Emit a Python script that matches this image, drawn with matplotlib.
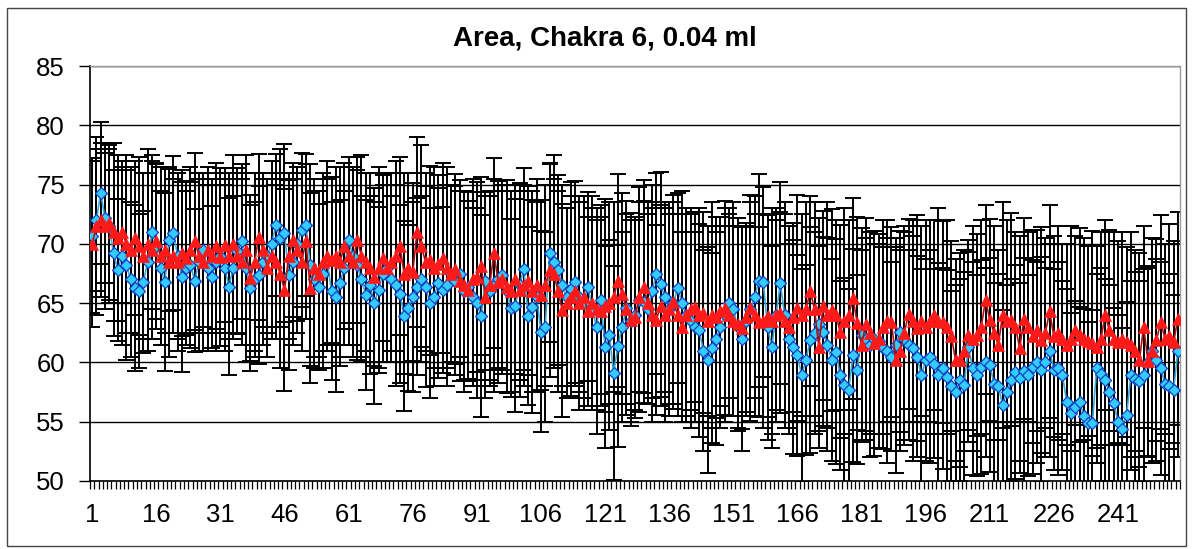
import matplotlib
matplotlib.use("Agg")
import matplotlib.pyplot as plt
from matplotlib.patches import Rectangle
import numpy as np

plt.rcParams['font.family'] = ['Liberation Sans', 'DejaVu Sans']

title = "Area, Chakra 6, 0.04 ml"

# Measurement index 1..255
samples = list(range(1, 256))

# Mean area, series 1 (blue diamonds)
blue_mean = [
    70.7, 72.0, 74.3, 72.2, 71.5, 69.2, 67.8, 69.0, 68.2, 67.0, 66.3, 66.0, 66.8, 68.5, 71.0,
    69.8, 68.0, 66.8, 70.3, 70.9, 69.0, 67.2, 68.0, 68.2, 66.9, 68.5, 69.5, 68.0, 67.2, 68.5,
    69.0, 68.0, 66.4, 68.0, 69.4, 70.2, 68.0, 66.3, 67.0, 67.4, 68.5, 69.0, 70.0, 71.6, 70.5,
    70.9, 67.4, 68.5, 70.0, 71.2, 71.6, 68.2, 67.0, 66.4, 67.5, 68.5, 66.0, 65.5, 66.7, 68.0,
    70.3, 69.0, 68.2, 67.0, 65.7, 66.5, 65.0, 66.1, 67.5, 68.0, 67.0, 66.5, 65.8, 63.9, 64.6,
    65.5, 66.4, 67.0, 66.4, 65.0, 65.5, 66.7, 66.1, 66.5, 67.5, 66.9, 67.5, 66.0, 66.4, 65.5,
    65.0, 63.9, 66.9, 66.0, 66.5, 67.0, 67.4, 66.0, 64.6, 64.8, 66.5, 67.9, 63.9, 64.7, 65.5,
    62.6, 63.0, 69.2, 68.5, 67.8, 66.5, 65.5, 66.2, 66.8, 65.5, 65.0, 66.4, 64.5, 63.0, 65.3,
    61.3, 62.3, 59.1, 61.4, 63.0, 64.6, 63.5, 64.0, 65.3, 65.1, 64.5, 66.0, 67.5, 66.6, 65.5,
    64.5, 65.0, 66.3, 65.0, 64.0, 63.5, 63.0, 62.7, 61.0, 60.2, 61.2, 62.0, 63.0, 64.0, 65.0,
    64.5, 63.0, 62.0, 63.5, 64.5, 65.5, 66.9, 66.8, 63.0, 61.3, 64.0, 66.7, 64.0, 62.0, 61.3,
    60.6, 58.9, 60.2, 61.9, 62.5, 63.2, 62.6, 61.5, 60.2, 60.9, 58.9, 58.1, 57.7, 60.6, 59.4,
    62.3, 62.0, 61.5, 62.0, 61.8, 61.2, 61.0, 60.5, 61.5, 62.6, 62.0, 61.5, 61.2, 60.5, 58.9,
    60.2, 60.5, 59.9, 58.9, 59.5, 58.8, 58.0, 57.5, 58.5, 58.1, 61.3, 59.5, 58.9, 59.6, 60.0,
    59.8, 58.2, 58.0, 56.4, 57.5, 58.5, 59.2, 58.7, 59.3, 58.9, 59.6, 60.0, 59.4, 60.0, 61.0,
    59.4, 59.5, 58.9, 56.7, 55.7, 56.2, 56.7, 55.5, 54.9, 54.9, 59.5, 59.0, 58.5, 57.5, 56.6,
    55.0, 54.4, 55.6, 58.9, 58.6, 58.4, 58.9, 60.0, 61.0, 60.2, 59.5, 58.2, 58.0, 57.7, 61.0,
]

# Mean area, series 2 (red triangles)
red_mean = [
    70.0, 71.5, 72.0, 71.5, 71.8, 71.0, 70.5, 71.0, 70.0, 69.5, 70.5, 69.8, 69.0, 70.0, 69.5,
    70.2, 69.0, 69.5, 68.5, 69.0, 68.5, 69.2, 68.8, 69.5, 70.2, 69.0, 68.5, 69.5, 69.0, 69.8,
    68.9, 69.9, 69.0, 70.0, 69.0, 68.5, 69.5, 67.1, 68.5, 70.6, 69.5, 68.0, 69.0, 68.5, 67.5,
    66.1, 69.0, 70.3, 69.5, 68.5, 70.2, 66.3, 68.0, 67.5, 68.5, 69.0, 68.6, 69.0, 68.5, 69.8,
    69.0, 68.5, 70.3, 69.0, 68.5, 68.0, 67.2, 68.0, 68.8, 68.0, 68.5, 69.0, 69.8, 67.5, 68.0,
    67.6, 71.0, 69.8, 68.5, 68.6, 68.0, 68.3, 68.8, 68.0, 67.5, 67.9, 66.9, 66.5, 66.1, 67.0,
    67.2, 68.1, 65.5, 66.5, 69.2, 66.8, 67.0, 66.4, 66.0, 67.0, 66.1, 66.5, 66.9, 66.0, 66.5,
    65.7, 66.5, 67.8, 67.5, 66.0, 64.4, 65.0, 65.5, 66.0, 65.0, 65.5, 64.3, 65.0, 64.5, 64.3,
    64.8, 65.0, 65.5, 66.9, 65.8, 64.5, 63.6, 63.8, 65.5, 66.4, 65.0, 64.0, 63.6, 64.8, 64.0,
    64.5, 65.1, 64.0, 63.0, 64.0, 64.5, 64.7, 64.0, 64.2, 63.5, 64.0, 63.8, 64.3, 64.6, 64.0,
    63.5, 63.2, 62.9, 63.8, 64.6, 64.0, 63.4, 63.5, 63.9, 63.5, 64.0, 64.2, 63.5, 63.0, 63.8,
    64.6, 64.0, 64.5, 66.0, 64.5, 61.3, 64.8, 64.0, 64.4, 64.0, 62.6, 63.5, 64.0, 65.4, 63.3,
    61.5, 63.2, 62.5, 61.6, 62.0, 63.0, 63.5, 63.4, 60.2, 61.0, 62.5, 64.1, 63.5, 62.9, 63.5,
    63.0, 63.5, 64.0, 63.5, 63.4, 63.0, 62.2, 60.2, 60.2, 61.0, 62.3, 62.0, 62.3, 63.0, 65.3,
    63.6, 62.5, 61.5, 64.0, 63.5, 63.6, 63.0, 61.2, 63.7, 63.0, 62.2, 62.7, 61.9, 62.5, 64.3,
    62.2, 62.5, 62.0, 61.5, 62.0, 62.7, 62.3, 62.0, 61.8, 61.6, 61.3, 62.0, 64.0, 62.7, 62.0,
    61.7, 62.0, 61.7, 61.5, 61.0, 60.2, 63.0, 60.1, 61.0, 61.9, 63.4, 62.0, 62.2, 61.7, 63.7,
]

# Standard deviations shown as error bars
blue_sd = [
    6.5, 6.0, 6.0, 5.5, 6.5, 7.0, 6.0, 7.5, 8.0, 6.5, 7.0, 6.5, 6.0, 7.5, 6.5,
    7.0, 6.5, 7.5, 6.0, 6.5, 7.0, 8.0, 6.5, 7.0, 6.0, 7.5, 6.5, 7.0, 6.0, 7.5,
    6.5, 7.0, 7.5, 6.0, 7.0, 6.5, 8.0, 7.0, 6.5, 7.5, 7.0, 6.5, 7.0, 6.0, 7.5,
    7.5, 8.0, 7.0, 6.5, 6.5, 6.0, 8.5, 7.5, 7.0, 8.0, 7.0, 7.5, 8.0, 7.0, 6.5,
    7.0, 7.5, 8.0, 7.0, 8.0, 7.5, 8.5, 7.0, 7.5, 8.0, 7.0, 8.5, 7.5, 8.0, 7.0,
    8.0, 7.5, 7.0, 8.5, 8.0, 7.5, 8.0, 7.0, 8.5, 7.5, 8.0, 7.0, 8.5, 8.0, 7.5,
    8.0, 8.5, 7.5, 8.0, 9.0, 7.5, 8.0, 8.5, 7.5, 9.0, 8.0, 8.5, 7.5, 9.0, 8.0,
    8.5, 8.0, 7.5, 9.0, 8.0, 8.5, 7.5, 9.0, 8.5, 8.0, 9.0, 8.0, 8.5, 9.0, 8.0,
    8.5, 8.0, 9.0, 8.5, 8.0, 9.0, 8.5, 8.0, 9.5, 8.5, 8.0, 9.0, 8.5, 9.5, 8.0,
    9.0, 8.5, 8.0, 9.5, 8.5, 9.0, 8.0, 9.0, 8.5, 9.5, 8.0, 9.0, 8.5, 9.0, 8.0,
    9.0, 8.5, 9.5, 8.0, 9.0, 8.5, 9.0, 8.0, 9.5, 8.5, 9.0, 8.5, 9.5, 8.0, 9.0,
    8.5, 9.0, 8.0, 9.5, 8.5, 9.0, 8.0, 9.0, 8.5, 9.5, 8.0, 9.0, 8.5, 9.0, 8.0,
    9.0, 8.5, 9.5, 8.0, 9.0, 8.5, 9.5, 8.0, 9.0, 8.5, 9.0, 8.0, 9.5, 8.5, 9.0,
    8.5, 9.0, 8.0, 9.5, 8.5, 9.0, 8.0, 9.0, 8.5, 9.5, 8.0, 9.0, 8.5, 9.0, 8.0,
    9.0, 8.5, 9.5, 8.0, 9.0, 8.5, 9.0, 8.0, 9.5, 8.5, 9.0, 8.5, 9.5, 8.0, 9.0,
    8.5, 9.0, 8.0, 9.5, 8.5, 9.0, 8.0, 9.0, 8.5, 9.5, 8.0, 9.0, 8.5, 9.0, 8.0,
    9.0, 8.5, 9.5, 8.0, 9.0, 8.5, 9.0, 8.0, 9.5, 8.5, 9.0, 8.5, 9.5, 8.0, 9.0,
]

red_sd = [
    7.0, 7.5, 6.5, 7.0, 6.5, 7.5, 7.0, 6.0, 7.5, 7.0, 6.5, 7.5, 7.0, 8.0, 7.5,
    6.5, 7.5, 7.0, 8.0, 6.5, 7.5, 7.0, 6.5, 7.0, 7.5, 6.5, 7.5, 7.0, 6.5, 7.0,
    7.5, 6.5, 7.0, 7.5, 6.5, 7.0, 8.0, 7.0, 7.5, 7.0, 6.5, 7.5, 7.0, 6.5, 8.0,
    8.5, 7.0, 6.5, 7.0, 7.5, 6.5, 8.0, 7.5, 7.0, 7.5, 8.0, 7.0, 7.5, 8.0, 7.0,
    7.5, 8.0, 7.0, 8.5, 7.5, 8.0, 7.5, 8.5, 7.0, 8.0, 7.5, 8.0, 7.5, 8.5, 8.0,
    7.5, 8.0, 8.5, 7.5, 8.0, 8.5, 7.5, 8.0, 8.5, 7.5, 8.0, 8.5, 8.0, 7.5, 8.5,
    8.0, 7.5, 8.5, 8.0, 8.0, 8.5, 8.0, 9.0, 8.5, 8.0, 9.0, 8.5, 8.0, 8.5, 9.0,
    8.0, 8.5, 9.0, 8.0, 8.5, 9.0, 8.0, 8.5, 8.0, 9.0, 8.5, 8.0, 9.0, 8.5, 8.0,
    9.0, 8.5, 8.0, 9.0, 8.5, 8.0, 9.0, 8.5, 8.0, 9.0, 8.5, 9.0, 8.0, 8.5, 9.0,
    8.0, 9.0, 8.5, 8.0, 9.0, 8.5, 8.0, 9.0, 8.5, 8.0, 9.5, 8.5, 8.0, 9.0, 8.5,
    8.0, 9.0, 8.5, 8.0, 9.5, 8.5, 8.0, 9.0, 8.5, 9.5, 8.0, 8.5, 9.0, 8.5, 8.0,
    9.5, 8.5, 9.0, 8.0, 9.0, 8.5, 8.0, 9.5, 8.5, 8.0, 9.0, 9.5, 8.0, 8.5, 9.0,
    8.0, 9.0, 8.5, 9.5, 8.0, 9.0, 8.5, 8.0, 9.5, 8.5, 9.0, 8.0, 8.5, 9.5, 8.0,
    9.0, 8.5, 8.0, 9.5, 8.5, 9.0, 8.0, 8.5, 9.0, 8.5, 8.0, 9.5, 8.5, 9.0, 8.0,
    8.5, 9.0, 8.0, 9.5, 8.5, 9.0, 8.0, 9.5, 8.5, 8.0, 9.0, 8.5, 9.5, 8.0, 9.0,
    8.5, 9.0, 8.0, 8.5, 9.5, 8.0, 9.0, 8.5, 8.0, 9.5, 8.5, 9.0, 8.0, 8.5, 9.0,
    8.5, 9.0, 8.0, 9.5, 8.5, 9.0, 8.5, 8.0, 9.5, 8.5, 9.0, 8.0, 9.5, 8.5, 9.0,
]

tick_labels = [str(v) for v in range(1, 256, 15)]

W, H = 1197, 549
fig = plt.figure(figsize=(W / 100, H / 100), dpi=100)
fig.patch.set_facecolor('white')

# outer chart frame
fig.patches.append(Rectangle((7 / W, 3 / H), (1186 - 7) / W, (546 - 8) / H,
                             transform=fig.transFigure, fill=False,
                             edgecolor='#444444', linewidth=1.0))

left, right, top, bottom = 90, 1180, 66, 481
ax = fig.add_axes([left / W, 1 - bottom / H, (right - left) / W, (bottom - top) / H])

x = np.array(samples)

# error bars (black, with caps)
for mean, sd in ((blue_mean, blue_sd), (red_mean, red_sd)):
    ax.errorbar(x, mean, yerr=sd, fmt='none', ecolor='black',
                elinewidth=1.4, capsize=6, capthick=1.4, zorder=2)

ax.plot(x, blue_mean, color='#3AA8D8', linewidth=1.2, marker='D',
        markersize=6.5, markerfacecolor='#33CCFF', markeredgecolor='#1040C0',
        markeredgewidth=0.9, zorder=3)
ax.plot(x, red_mean, color='#B01010', linewidth=1.2, marker='^',
        markersize=9, markerfacecolor='#FF1A1A', markeredgecolor='#FF1A1A',
        markeredgewidth=0.5, zorder=4)

ax.set_xlim(0.5, 255.5)
ax.set_ylim(50, 85)
ax.set_yticks(range(50, 90, 5))
ax.set_xticks(range(1, 256, 15))
ax.set_xticklabels(tick_labels)
ax.set_xticks(np.arange(0.5, 256, 1.0), minor=True)

ax.yaxis.grid(True, color='black', linewidth=1.0)
ax.set_axisbelow(True)

ax.tick_params(axis='y', direction='out', length=8, width=1, labelsize=18.5,
               colors='black', pad=10)
ax.tick_params(axis='x', which='major', length=0, labelsize=18.5, pad=16)
ax.tick_params(axis='x', which='minor', direction='out', length=6, width=0.9)

for s in ('left', 'bottom'):
    ax.spines[s].set_color('black')
    ax.spines[s].set_linewidth(1.2)
for s in ('top', 'right'):
    ax.spines[s].set_color('#999999')
    ax.spines[s].set_linewidth(1.0)

fig.text(605 / W, 1 - 38 / H, title, ha='center', va='center',
         fontsize=20, fontweight='bold')

fig.savefig('out.png', dpi=100)
